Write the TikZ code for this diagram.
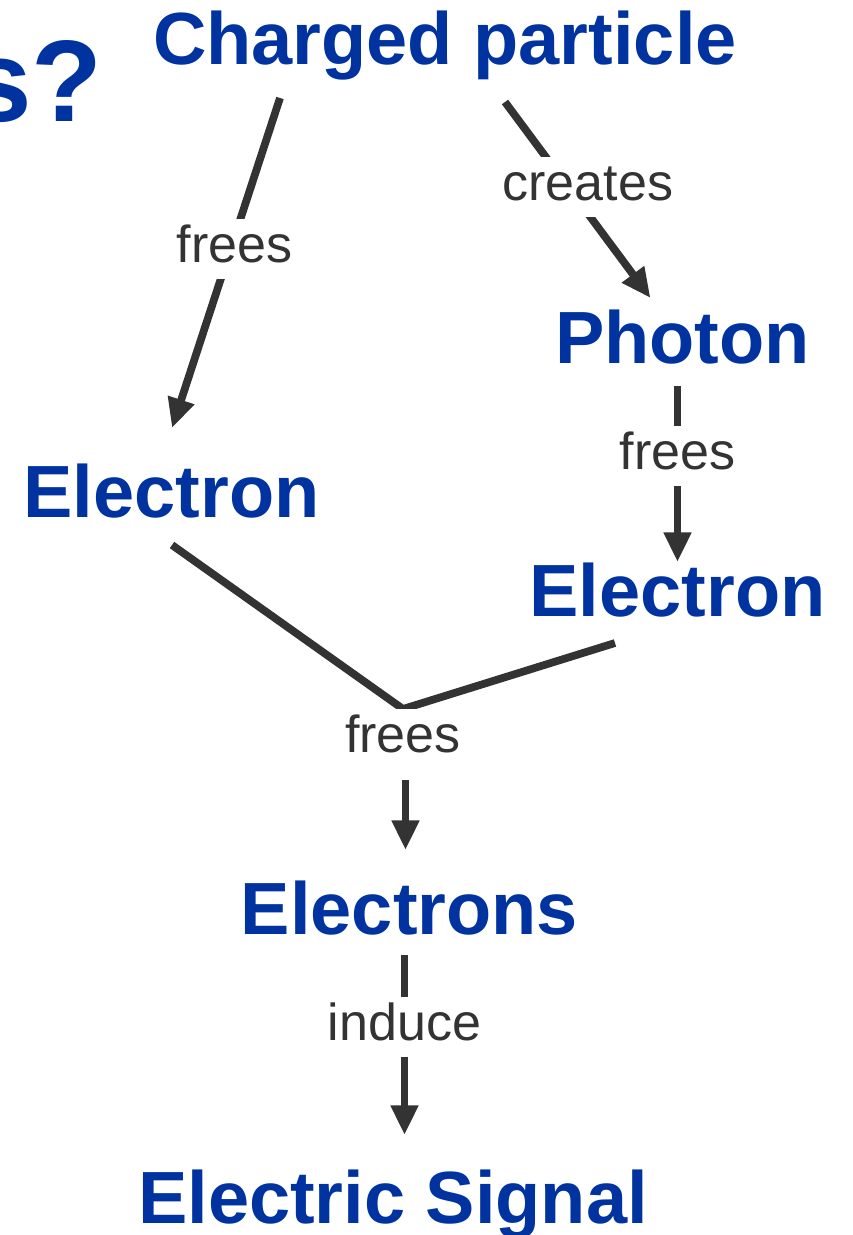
\documentclass[tikz,border=0pt]{standalone}
\usepackage{fontspec}
\setmainfont{Liberation Sans}
\usetikzlibrary{positioning, arrows.meta}
\definecolor{partblue}{RGB}{0,51,160}
\definecolor{linkgray}{RGB}{51,51,51}

\begin{document}
\begin{tikzpicture}[
    x=0.025cm, y=-0.025cm,
    term/.style = {inner sep=0pt, text=partblue, font=\bfseries\fontsize{52.6}{60}\selectfont},
    verb/.style = {inner sep=4pt, fill=white, text=linkgray, text height=27pt, text depth=7.8pt, font=\fontsize{37}{42}\selectfont},
    arrow/.style = {-{Triangle[length=21pt, width=18.5pt]}, line width=5.5pt, draw=linkgray},
    link/.style = {line width=5.5pt, draw=linkgray}
]
    \useasboundingbox (0,0) rectangle (853,1235);

    \node[term, anchor=base east, font=\bfseries\fontsize{82.5}{90}\selectfont] (title) at (103,122) {s?};
    \node[term, anchor=base] (cp) at (445,65) {Charged particle};
    \node[term, anchor=base] (photon) at (682.5,363) {Photon};
    \node[term, anchor=base] (el1) at (171.5,517) {Electron};
    \node[term, anchor=base] (el2) at (677.5,616) {Electron};
    \node[term, anchor=base] (elecs) at (409.5,934) {Electrons};
    \node[term, anchor=base] (sig) at (393,1223) {Electric Signal};

    % connector ends
    \coordinate (cp-l) at ([shift={(-165,33)}]cp.base);
    \coordinate (cp-r) at ([shift={(60,37)}]cp.base);
    \coordinate (el1-in) at ([shift={(0.5,-89)}]el1.base);
    \coordinate (ph-in) at ([shift={(-32,-65)}]photon.base);
    \coordinate (ph-out) at ([shift={(-5,23)}]photon.base);
    \coordinate (el2-in) at ([shift={(0,-54)}]el2.base);
    \coordinate (el1-out) at ([shift={(0.5,28)}]el1.base);
    \coordinate (el2-out) at ([shift={(-62.5,27)}]el2.base);
    \coordinate (join) at (403,709);
    \coordinate (elecs-in) at ([shift={(-4,-84)}]elecs.base);
    \coordinate (elecs-out) at ([shift={(-5,21)}]elecs.base);
    \coordinate (sig-in) at ([shift={(11.5,-88)}]sig.base);

    \draw[arrow] (cp-l) -- node[verb, pos=.458, xshift=3pt] (l-frees1) {frees} (el1-in);
    \draw[arrow] (cp-r) -- node[verb, pos=.434, xshift=14pt] (l-creates) {creates} (ph-in);
    \draw[arrow] (ph-out) -- node[verb, pos=.397] (l-frees2) {frees} (el2-in);
    \draw[link] (el1-out) -- (join) -- (el2-out);
    \node[verb, below=0pt of join] (l-frees3) {frees};
    \draw[arrow, shorten <=7.5pt] (l-frees3.south -| elecs-in) -- (elecs-in);
    \draw[arrow] (elecs-out) -- node[verb, pos=.4] (l-induce) {induce} (sig-in);
\end{tikzpicture}
\end{document}
